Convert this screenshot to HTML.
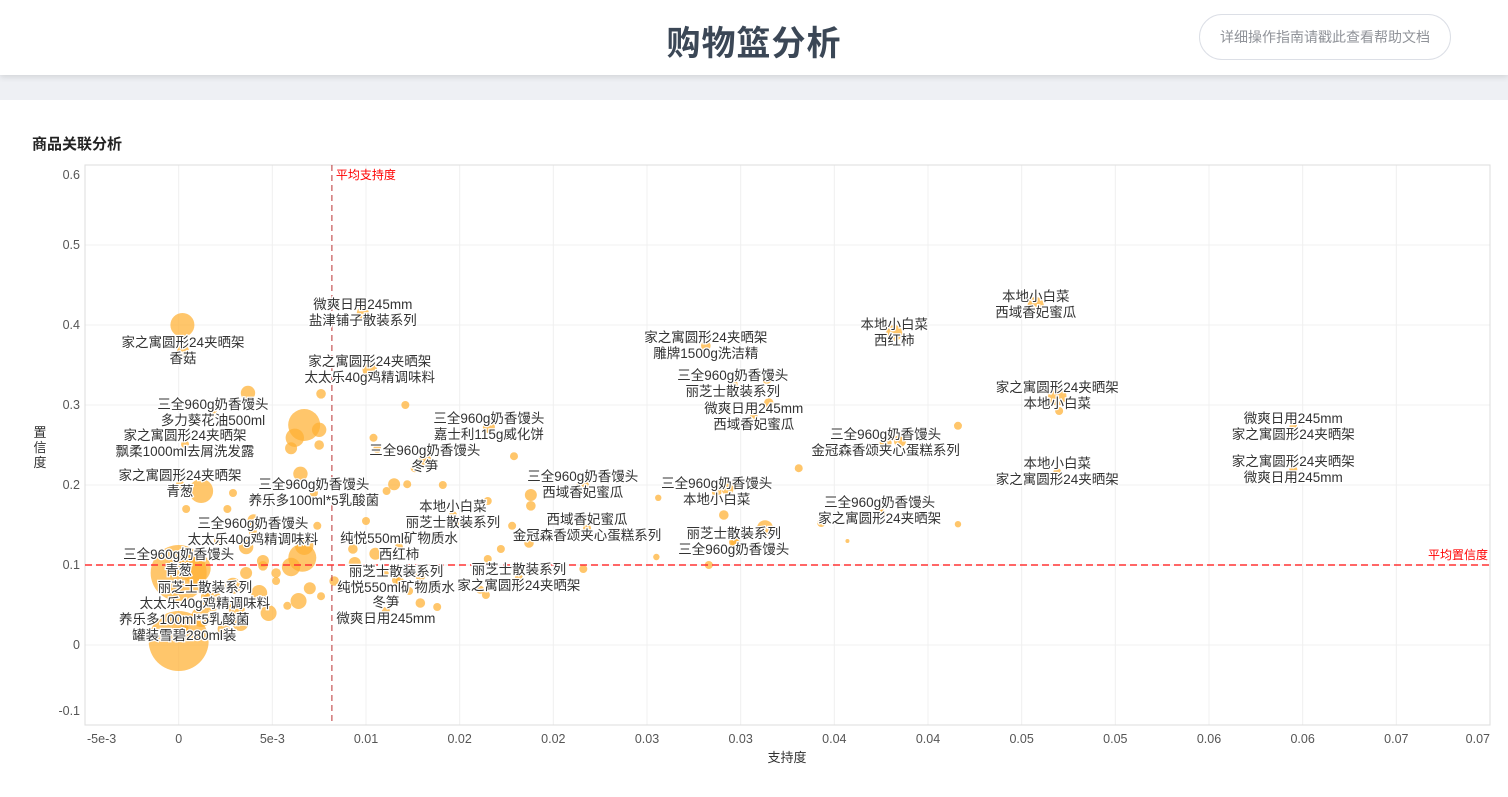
<!DOCTYPE html>
<html><head><meta charset="utf-8"><style>
body{margin:0;width:1508px;height:797px;background:#eef0f4;font-family:"Liberation Sans","Noto Sans CJK SC",sans-serif;overflow:hidden;position:relative}
#hdr{position:absolute;left:0;top:0;width:1508px;height:75px;background:#fff;box-shadow:0 2px 6px rgba(0,0,0,.12)}
#title{position:absolute;left:0;width:1508px;top:16px;text-align:center;font-size:34px;font-weight:bold;color:#3b4756;letter-spacing:1px}
#help{position:absolute;left:1199px;top:14px;width:252px;height:46px;border:1px solid #dcdfe6;border-radius:24px;box-sizing:border-box;font-size:14px;color:#909399;text-align:center;line-height:44px}
#card{position:absolute;left:0;top:100px;width:1508px;height:697px;background:#fff}
#ctitle{position:absolute;left:32px;top:133px;font-size:15px;font-weight:bold;color:#222}
svg{position:absolute;left:0;top:0}
</style></head><body>
<div id="hdr"><div id="title">购物篮分析</div>
<div id="help">详细操作指南请戳此查看帮助文档</div></div>
<div id="card"></div>
<div id="ctitle">商品关联分析</div>
<svg id="chart" width="1508" height="797"></svg>
<script>
const xTicks=[-0.005,0,0.005,0.01,0.015,0.02,0.025,0.03,0.035,0.04,0.045,0.05,0.055,0.06,0.065,0.07];
const xTickLabels=["-5e-3","0","5e-3","0.01","0.02","0.02","0.03","0.03","0.04","0.04","0.05","0.05","0.06","0.06","0.07","0.07"];
const yTicks=[-0.1,0,0.1,0.2,0.3,0.4,0.5,0.6];
const yTickLabels=["-0.1","0","0.1","0.2","0.3","0.4","0.5","0.6"];
const avgSupport=0.00818;
const avgConfidence=0.1;
const supp=[0.0002,0.0037,0.0067,0.0062,0.006,0.0075,0.0076,0.0075,0.0065,0.004,0.0026,0.0012,0.0004,0.0029,0.0009,0,0,0.0066,0.0067,0.006,0.0045,0.0036,0.0029,0.0043,0.0018,0.0033,0.0045,0.0064,0.007,0.0076,0.0052,0.0052,0.0058,0.0074,0.0083,0.0094,0.0093,0.01,0.0115,0.0106,0.0104,0.0121,0.0126,0.0122,0.0111,0.0105,0.011,0.0118,0.0129,0.0129,0.0123,0.0138,0.0141,0.0148,0.0165,0.0179,0.0188,0.0188,0.0178,0.0172,0.0165,0.0161,0.0164,0.0216,0.0187,0.0256,0.0255,0.0291,0.0293,0.0296,0.0297,0.0283,0.0314,0.0315,0.0313,0.0331,0.0343,0.0375,0.0385,0.0416,0.0416,0.0357,0.047,0.047,0.0012,0.0024,0.0031,0.0021,0.0048,0.0036];
const conf=[0.40,0.315,0.275,0.259,0.246,0.269,0.314,0.25,0.214,0.156,0.17,0.1925,0.17,0.19,0.096,0.09,0.005,0.109,0.124,0.0975,0.105,0.1225,0.074,0.065,0.055,0.0275,0.099,0.055,0.071,0.061,0.09,0.08,0.049,0.149,0.08,0.1025,0.12,0.155,0.201,0.245,0.259,0.30,0.221,0.201,0.1925,0.114,0.089,0.08,0.086,0.0525,0.0675,0.0475,0.20,0.155,0.18,0.236,0.1875,0.174,0.149,0.12,0.1075,0.069,0.0625,0.095,0.1275,0.184,0.11,0.1625,0.195,0.2025,0.129,0.1,0.3325,0.3025,0.146,0.221,0.1525,0.164,0.255,0.274,0.151,0.13,0.2925,0.209,0.035,0.02,0.045,0.13,0.04,0.09];
const lift=[3,1.8,4,2.3,1.5,1.8,1.2,1.2,1.8,1.5,1,3,1,1,3.8,7,7.5,3.5,2.3,2.3,1.5,1.8,2,2,2.5,2,1.2,2,1.5,1,1.2,1,1,1,1.2,1.5,1.2,1,1.5,1,1,1,1,1,1,1.5,1,1,1.2,1.2,1,1,1,1.2,1,1,1.5,1.2,1,1,1,1,1,1,1.2,0.8,0.8,1.2,1.5,0.8,1.2,1,1.2,1.2,2,1,1,1,1.5,1,0.8,0.5,1,1,2.5,1.5,2,1,2,1.5];
const ruleA=["微爽日用245mm","家之寓圆形24夹晒架","家之寓圆形24夹晒架","三全960g奶香馒头","家之寓圆形24夹晒架","家之寓圆形24夹晒架","三全960g奶香馒头","三全960g奶香馒头","三全960g奶香馒头","丽芝士散装系列","养乐多100ml*5乳酸菌","三全960g奶香馒头","三全960g奶香馒头","三全960g奶香馒头","本地小白菜","纯悦550ml矿物质水","丽芝士散装系列","冬笋","西域香妃蜜瓜","丽芝士散装系列","家之寓圆形24夹晒架","三全960g奶香馒头","微爽日用245mm","三全960g奶香馒头","丽芝士散装系列","本地小白菜","本地小白菜","家之寓圆形24夹晒架","三全960g奶香馒头","三全960g奶香馒头","本地小白菜","微爽日用245mm","家之寓圆形24夹晒架"];
const ruleB=["盐津铺子散装系列","香菇","太太乐40g鸡精调味料","多力葵花油500ml","飘柔1000ml去屑洗发露","青葱","养乐多100ml*5乳酸菌","太太乐40g鸡精调味料","青葱","太太乐40g鸡精调味料","罐装雪碧280ml装","嘉士利115g威化饼","冬笋","西域香妃蜜瓜","丽芝士散装系列","西红柿","纯悦550ml矿物质水","微爽日用245mm","金冠森香颂夹心蛋糕系列","家之寓圆形24夹晒架","雕牌1500g洗洁精","丽芝士散装系列","西域香妃蜜瓜","本地小白菜","三全960g奶香馒头","西红柿","西域香妃蜜瓜","本地小白菜","金冠森香颂夹心蛋糕系列","家之寓圆形24夹晒架","家之寓圆形24夹晒架","家之寓圆形24夹晒架","微爽日用245mm"];
const ruleSupp=[0.00983,0.00023,0.0102,0.00183,0.00034,0.00007,0.00722,0.00396,0,0.0014,0.0003,0.01656,0.01314,0.02157,0.01464,0.01176,0.0116,0.01106,0.0218,0.01816,0.02814,0.02958,0.0307,0.02872,0.02963,0.0382,0.04575,0.0469,0.03774,0.03742,0.0469,0.0595,0.0595];
const ruleConf=[0.415,0.3675,0.344,0.29,0.251,0.201,0.19,0.1413,0.1025,0.061,0.0213,0.2725,0.2325,0.20,0.1625,0.1225,0.081,0.0425,0.146,0.0838,0.374,0.326,0.285,0.191,0.1288,0.39,0.425,0.311,0.2525,0.1675,0.216,0.2725,0.219];
const ruleLift=[1.5,1.5,1.8,1,1,1,1,1,1,1,1,1.5,1.5,1.5,1,1,1,1,1,1,1.2,1.2,1,1.2,1.2,2,2,2.3,1.5,1,1,1,1];

const svg=document.getElementById('chart');const NS='http://www.w3.org/2000/svg';
const L=85,R=1490,T=165,B=725,xMin=-0.005,xMax=0.07,yMin=-0.1,yMax=0.6;
function sx(v){return L+(v-xMin)/(xMax-xMin)*(R-L);}
function sy(v){return B-(v-yMin)/(yMax-yMin)*(B-T);}
function mk(tag,at,txt){const e=document.createElementNS(NS,tag);for(const k in at)e.setAttribute(k,at[k]);if(txt!==undefined)e.textContent=txt;svg.appendChild(e);return e;}
xTicks.forEach((v,i)=>{const g=mk('line',{x1:sx(v),x2:sx(v),y1:T,y2:B,stroke:'#f0f0f0'});


let anchor='middle',xx=sx(v);if(i==0){anchor='start';xx=sx(v)+2;}if(i==xTicks.length-1){anchor='end';}
const t=mk('text',{x:xx,y:B+18,'font-size':12.5,fill:'#555','text-anchor':anchor},xTickLabels[i]);

});
yTicks.forEach((v,i)=>{const g=mk('line',{x1:L,x2:R,y1:sy(v),y2:sy(v),stroke:'#f0f0f0'});


let yy=sy(v)+4;if(i==0)yy=sy(v)-10;if(i==yTicks.length-1)yy=sy(v)+14;
const t=mk('text',{x:L-5,y:yy,'font-size':12.5,fill:'#555','text-anchor':'end'},yTickLabels[i]);

});
const fr=mk('rect',{x:L,y:T,width:R-L,height:B-T,fill:'none',stroke:'#ddd'});


for(let i=0;i<supp.length;i++){const c=mk('circle',{cx:sx(supp[i]),cy:sy(conf[i]),r:lift[i]*4,fill:'rgba(255,176,50,0.72)'});

}
for(let i=0;i<ruleSupp.length;i++){const c=mk('circle',{cx:sx(ruleSupp[i]),cy:sy(ruleConf[i]),r:ruleLift[i]*4,fill:'rgba(255,176,50,0.72)'});

}
const vl=mk('line',{x1:sx(avgSupport),x2:sx(avgSupport),y1:T,y2:B,stroke:'#b33','stroke-dasharray':'6,4','stroke-width':1});


const vt=mk('text',{x:sx(avgSupport)+4,y:T+14,'font-size':12,fill:'#f00'},'平均支持度');


const hl=mk('line',{x1:L,x2:R,y1:sy(avgConfidence),y2:sy(avgConfidence),stroke:'#f33','stroke-dasharray':'7,4','stroke-width':1.5});


const ht=mk('text',{x:R-2,y:sy(avgConfidence)-6,'font-size':12,fill:'#f00','text-anchor':'end'},'平均置信度');


for(let i=0;i<ruleSupp.length;i++){[ruleA[i],ruleB[i]].forEach((s,k)=>{
const t=mk('text',{x:sx(ruleSupp[i]),y:sy(ruleConf[i])+(k?12:-4),'font-size':13.5,fill:'#333','text-anchor':'middle',stroke:'#fff','stroke-width':2.5,'paint-order':'stroke'},s);

});}
['置','信','度'].forEach((c,k)=>{const t=mk('text',{x:40,y:437+k*15,'font-size':13,fill:'#333','text-anchor':'middle'},c);

});
const xt=mk('text',{x:787,y:762,'font-size':13,fill:'#333','text-anchor':'middle'},'支持度');


</script>
</body></html>
